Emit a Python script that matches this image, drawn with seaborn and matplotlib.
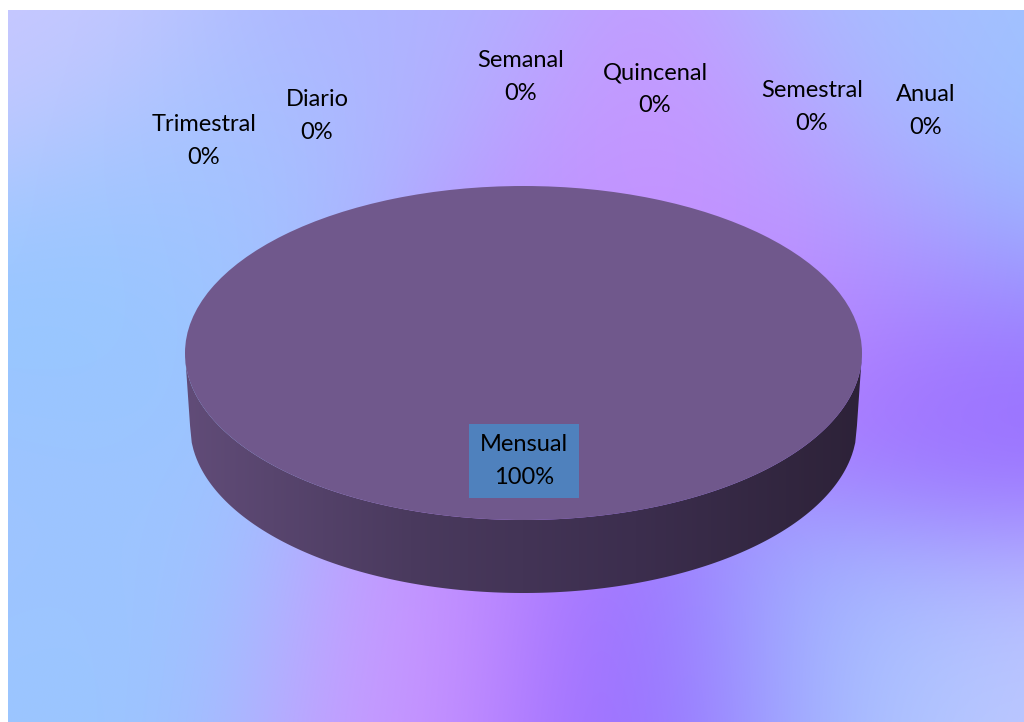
import numpy as np
import matplotlib
matplotlib.use("Agg")
import matplotlib.pyplot as plt
import seaborn as sns
from matplotlib.patches import Polygon, Rectangle
from matplotlib.colors import LinearSegmentedColormap

# ---- data ----
categories = ["Diario", "Semanal", "Quincenal", "Mensual", "Trimestral", "Semestral", "Anual"]
values = [0, 0, 0, 100, 0, 0, 0]
pct_labels = ["0%", "0%", "0%", "100%", "0%", "0%", "0%"]

# ---- layout (pixel positions of label block centres) ----
label_pos = {
    "Diario": (317, 116),
    "Semanal": (521, 77),
    "Quincenal": (655, 89),
    "Mensual": (524, 461),
    "Trimestral": (204, 141),
    "Semestral": (812, 107),
    "Anual": (926, 111),
}

sns.set_theme(style="white")
plt.rcParams["font.family"] = ["Lato", "DejaVu Sans"]

W, H = 1024, 722
fig = plt.figure(figsize=(W / 100, H / 100), dpi=100)

# ---- background gradient ----
bg_ax = fig.add_axes([0, 0, 1, 1])
bg_ax.set_axis_off()
yy, xx = np.mgrid[0:H, 0:W].astype(float)
anchors = [
    (30, 30, (200, 200, 255)),
    (100, 300, (148, 200, 255)),
    (60, 520, (160, 195, 255)),
    (150, 650, (152, 200, 255)),
    (400, 680, (205, 150, 255)),
    (650, 700, (150, 100, 255)),
    (850, 680, (160, 200, 255)),
    (1010, 710, (195, 200, 255)),
    (960, 390, (150, 100, 255)),
    (1000, 150, (150, 200, 255)),
    (650, 150, (200, 150, 255)),
    (400, 40, (175, 180, 255)),
    (250, 200, (165, 195, 255)),
    (820, 260, (195, 140, 255)),
    (900, 30, (170, 190, 255)),
    (520, 330, (185, 140, 255)),
]
wsum = np.zeros((H, W))
col = np.zeros((H, W, 3))
for ax_, ay_, c in anchors:
    w = np.exp(-(((xx - ax_) ** 2 + (yy - ay_) ** 2) / (2 * 120.0 ** 2)))
    wsum += w
    col += w[..., None] * np.array(c)[None, None, :]
img = col / wsum[..., None] / 255.0
img[:10, :, :] = 1.0
img[:, :8, :] = 1.0
bg_ax.imshow(img, extent=(0, W, H, 0), aspect="auto", interpolation="bilinear")
bg_ax.set_xlim(0, W)
bg_ax.set_ylim(H, 0)

# ---- 3D pie ----
cx_l, cx_r = 185, 862
top_y, center_y = 186, 353
ry = center_y - top_y
d_px = 593 - (center_y + ry)
d = d_px / ry
ax = fig.add_axes([cx_l / W, 1 - (center_y + ry + d_px) / H, (cx_r - cx_l) / W, (ry * 2 + d_px) / H])

pie_colors = ["#5b7fc0", "#c0504d", "#9bbb59", "#70588c", "#4bacc6", "#f79646", "#2c4d75"]

# side (extrusion) with horizontal gradient
t = np.linspace(-1, 1, 400)
shrink = 0.985
upper = np.where(np.abs(t) > 0.999, 0, -np.sqrt(np.clip(1 - t ** 2, 0, None)))
lower = -np.sqrt(np.clip(1 - t ** 2, 0, None)) - d
verts = np.vstack([np.column_stack([t, upper]),
                   np.column_stack([t[::-1] * shrink, lower[::-1]])])
side_poly = Polygon(verts, closed=True, facecolor="none", edgecolor="none")
ax.add_patch(side_poly)
side_cmap = LinearSegmentedColormap.from_list("side", ["#614c78", "#4a3a5e", "#3c2e4e", "#2d2238"])
grad = np.linspace(0, 1, 256)[None, :]
im = ax.imshow(grad, cmap=side_cmap, extent=(-1, 1, -1 - d, 0), aspect="auto", zorder=1)
im.set_clip_path(side_poly)

wedges, _ = ax.pie(values, colors=pie_colors, radius=1, startangle=90, counterclock=False,
                   wedgeprops=dict(linewidth=0))
for wdg in wedges:
    wdg.set_zorder(2)
ax.set_aspect("auto")
ax.set_xlim(-1, 1)
ax.set_ylim(-1 - d, 1)
ax.axis("off")

# ---- labels ----
fs = 17
for cat, pct in zip(categories, pct_labels):
    px, py = label_pos[cat]
    if cat == "Mensual":
        fig.patches.append(Rectangle(((px - 55) / W, 1 - (py + 37) / H), 110 / W, 74 / H,
                                     transform=fig.transFigure, facecolor="#4f81bd",
                                     edgecolor="none", zorder=3))
    fig.text(px / W, 1 - py / H, f"{cat}\n{pct}", ha="center", va="center",
             fontsize=fs, color="black", linespacing=1.7, zorder=4)

fig.savefig("out.png", dpi=100)
